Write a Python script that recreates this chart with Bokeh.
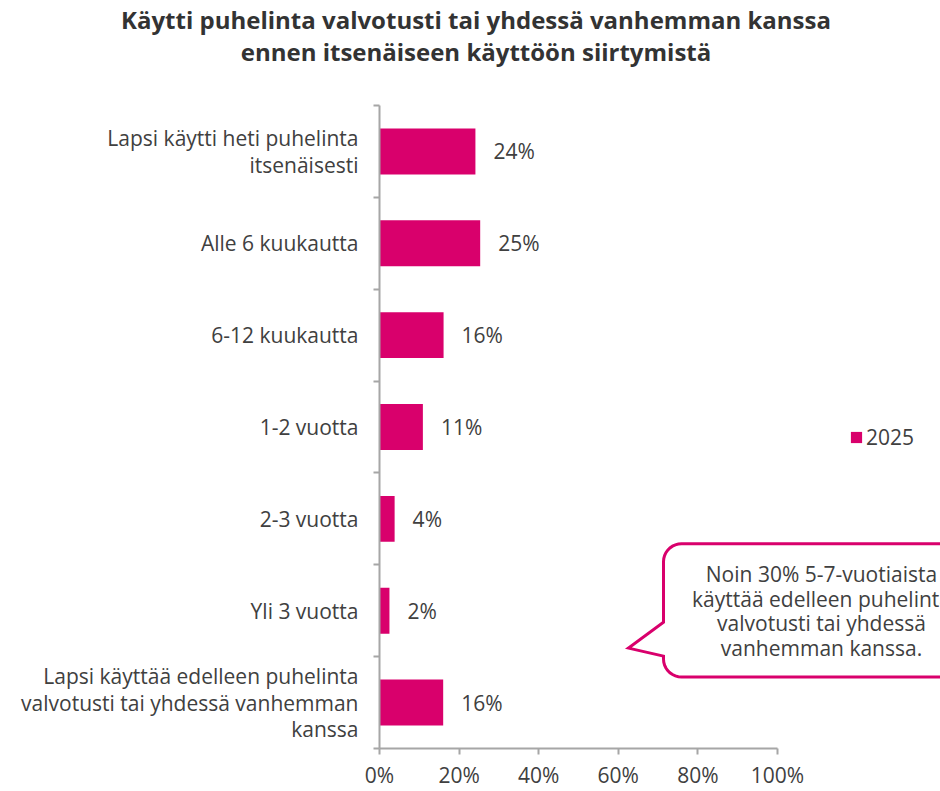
import numpy as np
from bokeh.plotting import figure
from bokeh.layouts import column
from bokeh.models import Range1d, FixedTicker, Legend, LegendItem, ColumnDataSource, Div
from bokeh.core.properties import value
from bokeh.embed import file_html
from bokeh.resources import INLINE

# ---------------- data ----------------
categories = [
    "Lapsi käytti heti puhelinta\nitsenäisesti",
    "Alle 6 kuukautta",
    "6-12 kuukautta",
    "1-2 vuotta",
    "2-3 vuotta",
    "Yli 3 vuotta",
    "Lapsi käyttää edelleen puhelinta\nvalvotusti tai yhdessä vanhemman\nkanssa",
]
values = [24.1, 25.3, 16.1, 10.9, 3.8, 2.5, 16.0]
value_labels = ["24%", "25%", "16%", "11%", "4%", "2%", "16%"]
series_name = "2025"
x_ticks = [0, 20, 40, 60, 80, 100]
x_tick_labels = ["0%", "20%", "40%", "60%", "80%", "100%"]
title_lines = ["Käytti puhelinta valvotusti tai yhdessä vanhemman kanssa",
               "ennen itsenäiseen käyttöön siirtymistä"]
callout_text = ("Noin 30% 5-7-vuotiaista\nkäyttää edelleen puhelinta\n"
                "valvotusti tai yhdessä\nvanhemman kanssa.")

# ---------------- style / layout ----------------
PINK = "#D9006C"
TXT = "#404040"
AX = "#A6A6A6"
FONT = "Open Sans"
FS = "21px"
W, H_TOTAL = 940, 791
TITLE_H = 70
H = H_TOTAL - TITLE_H
LEFT, TOP, BOTTOM = 379, 105 - TITLE_H, 39
PX100 = 398.0                       # pixels for 0..100 %
x_end = 100.0 * (W - LEFT) / PX100
n = len(categories)
frame_h = H - TOP - BOTTOM
px_x = PX100 / 100.0
px_y = frame_h / n

def to_data(px, py):
    # page pixel -> data coords
    return (px - LEFT) / px_x, ((H_TOTAL - BOTTOM) - py) / px_y

# title
title = Div(
    text="<div style='position:relative;left:6px;padding-top:4px'>"
         + "<br>".join(title_lines) + "</div>",
    width=W, height=TITLE_H, margin=0,
    styles={"font-family": FONT, "font-weight": "bold", "font-size": "24px",
            "color": "#333333", "text-align": "center", "line-height": "32px"})

ypos = [n - i - 0.5 for i in range(n)]
src = ColumnDataSource(dict(y=ypos, v=values, lab=value_labels))

p = figure(width=W, height=H, output_backend="svg", toolbar_location=None,
           x_range=Range1d(0, x_end), y_range=Range1d(0, n),
           min_border_left=LEFT, min_border_right=0, min_border_top=TOP,
           min_border_bottom=BOTTOM, outline_line_color=None, margin=0)
p.grid.visible = False
p.background_fill_color = "white"
p.border_fill_color = "white"

# bars
bars = p.hbar(y="y", right="v", left=0, height=0.5, source=src,
              fill_color=PINK, line_color=None)
p.text(x="v", y="y", text="lab", source=src, x_offset=18,
       text_align="left", text_baseline="middle", text_color=TXT,
       text_font=value(FONT), text_font_size=FS)

# x axis
xa = p.xaxis[0]
xa.ticker = FixedTicker(ticks=x_ticks)
xa.major_label_overrides = {t: l for t, l in zip(x_ticks, x_tick_labels)}
xa.bounds = (0, 100)
xa.axis_line_color = AX
xa.axis_line_width = 2
xa.major_tick_line_color = AX
xa.major_tick_line_width = 2
xa.major_tick_out = 6
xa.major_tick_in = 0
xa.minor_tick_line_color = None
xa.major_label_text_font = FONT
xa.major_label_text_font_size = FS
xa.major_label_text_color = TXT
xa.major_label_standoff = 6

# y axis
ya = p.yaxis[0]
ya.ticker = FixedTicker(ticks=ypos, minor_ticks=list(range(n + 1)))
ya.major_label_overrides = {y: c for y, c in zip(ypos, categories)}
ya.axis_line_color = AX
ya.axis_line_width = 2
ya.major_tick_line_color = None
ya.major_tick_out = 0
ya.major_tick_in = 0
ya.minor_tick_line_color = AX
ya.minor_tick_line_width = 2
ya.minor_tick_out = 6
ya.minor_tick_in = 0
ya.major_label_text_font = FONT
ya.major_label_text_font_size = FS
ya.major_label_text_color = TXT
ya.major_label_standoff = 15
ya.major_label_text_align = "center"
ya.major_label_text_line_height = 0.95

# callout bubble (page-pixel geometry converted to data)
b_left, b_right, b_top, b_bot, rad = 663, 1000, 546, 680, 18
ptr_up, ptr_tip, ptr_low = (663, 625), (628, 651), (663, 659)
pts = []
def arc(cx, cy, a0, a1):
    for a in np.linspace(a0, a1, 10):
        pts.append((cx + rad * np.cos(a), cy - rad * np.sin(a)))
arc(b_left + rad, b_top + rad, np.pi, np.pi / 2)
pts.append((b_right, b_top))
pts.append((b_right, b_bot))
arc(b_left + rad, b_bot - rad, -np.pi / 2, -np.pi)
pts.append(ptr_low)
pts.append(ptr_tip)
pts.append(ptr_up)
bx, by = zip(*[to_data(a, b) for a, b in pts])
p.patch(list(bx), list(by), fill_color="white", line_color=PINK,
        line_width=3, line_join="miter")
cx, cy = to_data(821, 613.5)
p.text(x=[cx], y=[cy], text=[callout_text], text_align="center",
       text_baseline="middle", text_color=TXT, text_font=value(FONT),
       text_font_size=FS, text_line_height=0.88)

# legend
legend = Legend(items=[LegendItem(label=series_name, renderers=[bars])],
                location=(470, 297), border_line_color=None,
                background_fill_alpha=0, padding=0, margin=0,
                label_standoff=3, glyph_width=14, glyph_height=14,
                label_text_font=FONT, label_text_font_size=FS,
                label_text_color=TXT)
p.add_layout(legend)

layout = column(title, p, spacing=0, margin=0)
open("out.html", "w").write(file_html(layout, INLINE))
